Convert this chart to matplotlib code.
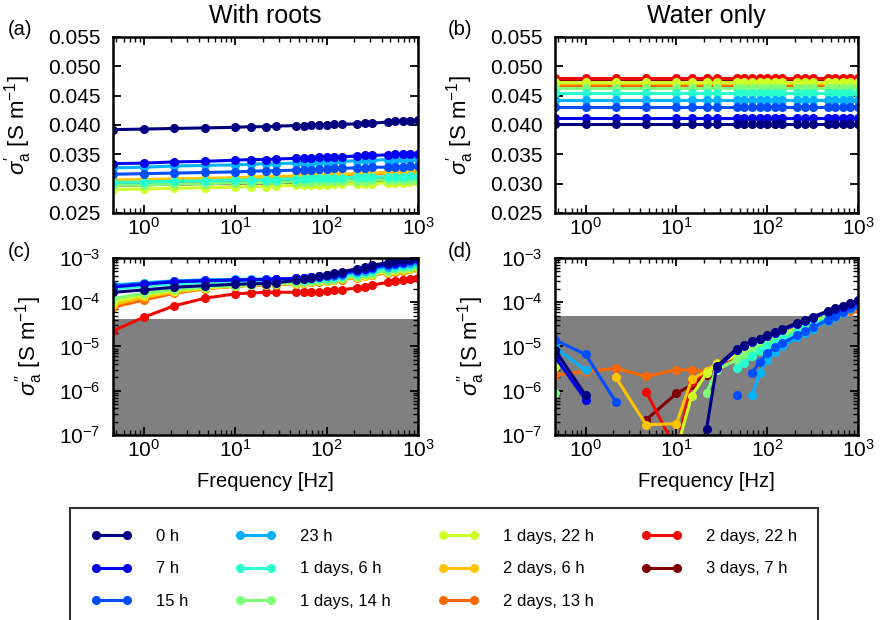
import matplotlib
matplotlib.use('Agg')
import matplotlib.pyplot as plt
from matplotlib import ticker
import numpy as np

nan = float('nan')

# measurement frequencies [Hz]
freq = [0.46, 1.0, 2.15, 4.64, 10.0, 14.7, 21.5, 27.8, 46.4, 56.2, 68.1, 82.5,
        100, 121, 147, 215, 261, 316, 464, 562, 681, 825, 1000]

labels = ['0 h', '7 h', '15 h', '23 h', '1 days, 6 h', '1 days, 14 h',
          '1 days, 22 h', '2 days, 6 h', '2 days, 13 h', '2 days, 22 h',
          '3 days, 7 h']

# (a) real part, with roots [S/m]
roots_real = [
    [0.0392, 0.0393, 0.0394, 0.0395, 0.0396, 0.0397, 0.0397, 0.0398, 0.0399, 0.0399, 0.0400, 0.0400, 0.0400, 0.0401, 0.0401, 0.0402, 0.0403, 0.0403, 0.0405, 0.0406, 0.0407, 0.0407, 0.0408],
    [0.0334, 0.0335, 0.0337, 0.0338, 0.0340, 0.0341, 0.0341, 0.0342, 0.0343, 0.0344, 0.0344, 0.0345, 0.0345, 0.0346, 0.0346, 0.0347, 0.0348, 0.0348, 0.0349, 0.0350, 0.0350, 0.0351, 0.0351],
    [0.0316, 0.0317, 0.0318, 0.0319, 0.0320, 0.0321, 0.0322, 0.0322, 0.0323, 0.0324, 0.0324, 0.0325, 0.0325, 0.0326, 0.0326, 0.0327, 0.0327, 0.0328, 0.0328, 0.0329, 0.0329, 0.0330, 0.0330],
    [0.0327, 0.0328, 0.0330, 0.0331, 0.0332, 0.0333, 0.0334, 0.0334, 0.0335, 0.0336, 0.0336, 0.0337, 0.0337, 0.0338, 0.0338, 0.0339, 0.0340, 0.0340, 0.0341, 0.0341, 0.0342, 0.0342, 0.0342],
    [0.0302, 0.0303, 0.0304, 0.0305, 0.0306, 0.0306, 0.0307, 0.0307, 0.0308, 0.0308, 0.0309, 0.0309, 0.0309, 0.0310, 0.0310, 0.0311, 0.0311, 0.0311, 0.0312, 0.0312, 0.0312, 0.0313, 0.0313],
    [0.0297, 0.0298, 0.0299, 0.0300, 0.0301, 0.0301, 0.0302, 0.0302, 0.0303, 0.0303, 0.0303, 0.0304, 0.0304, 0.0304, 0.0305, 0.0305, 0.0305, 0.0306, 0.0306, 0.0306, 0.0307, 0.0307, 0.0307],
    [0.0290, 0.0291, 0.0292, 0.0293, 0.0294, 0.0295, 0.0295, 0.0296, 0.0297, 0.0297, 0.0298, 0.0298, 0.0298, 0.0299, 0.0299, 0.0300, 0.0300, 0.0300, 0.0301, 0.0301, 0.0301, 0.0302, 0.0302],
    [0.0306, 0.0307, 0.0308, 0.0309, 0.0310, 0.0311, 0.0312, 0.0312, 0.0313, 0.0314, 0.0314, 0.0315, 0.0315, 0.0316, 0.0316, 0.0317, 0.0318, 0.0318, 0.0319, 0.0319, 0.0320, 0.0320, 0.0321],
    [0.0305, 0.0306, 0.0307, 0.0308, 0.0309, 0.0310, 0.0311, 0.0311, 0.0312, 0.0313, 0.0313, 0.0314, 0.0314, 0.0315, 0.0315, 0.0316, 0.0317, 0.0317, 0.0318, 0.0318, 0.0319, 0.0319, 0.0320],
    [0.0302, 0.0303, 0.0304, 0.0304, 0.0305, 0.0306, 0.0306, 0.0307, 0.0307, 0.0308, 0.0308, 0.0309, 0.0309, 0.0309, 0.0310, 0.0310, 0.0311, 0.0311, 0.0311, 0.0312, 0.0312, 0.0312, 0.0313],
    [0.0297, 0.0298, 0.0299, 0.0300, 0.0300, 0.0301, 0.0301, 0.0302, 0.0302, 0.0303, 0.0303, 0.0303, 0.0304, 0.0304, 0.0304, 0.0305, 0.0305, 0.0305, 0.0306, 0.0306, 0.0306, 0.0307, 0.0307],
]

# (b) real part, water only [S/m]
water_real = [
    [0.0401, 0.0401, 0.0401, 0.0401, 0.0401, 0.0401, 0.0401, 0.0401, 0.0401, 0.0401, 0.0401, 0.0401, 0.0401, 0.0401, 0.0401, 0.0401, 0.0401, 0.0401, 0.0401, 0.0401, 0.0401, 0.0401, 0.0401],
    [0.0412, 0.0412, 0.0412, 0.0412, 0.0412, 0.0412, 0.0412, 0.0412, 0.0412, 0.0412, 0.0412, 0.0412, 0.0412, 0.0412, 0.0412, 0.0412, 0.0412, 0.0412, 0.0412, 0.0412, 0.0412, 0.0412, 0.0412],
    [0.0431, 0.0431, 0.0431, 0.0431, 0.0431, 0.0431, 0.0431, 0.0431, 0.0431, 0.0431, 0.0431, 0.0431, 0.0431, 0.0431, 0.0431, 0.0431, 0.0431, 0.0431, 0.0431, 0.0431, 0.0431, 0.0431, 0.0431],
    [0.0443, 0.0443, 0.0443, 0.0443, 0.0443, 0.0443, 0.0443, 0.0443, 0.0443, 0.0443, 0.0443, 0.0443, 0.0443, 0.0443, 0.0443, 0.0443, 0.0443, 0.0443, 0.0443, 0.0443, 0.0443, 0.0443, 0.0443],
    [0.0454, 0.0454, 0.0454, 0.0454, 0.0454, 0.0454, 0.0454, 0.0454, 0.0454, 0.0454, 0.0454, 0.0454, 0.0454, 0.0454, 0.0454, 0.0454, 0.0454, 0.0454, 0.0454, 0.0454, 0.0454, 0.0454, 0.0454],
    [0.0463, 0.0463, 0.0463, 0.0463, 0.0463, 0.0463, 0.0463, 0.0463, 0.0463, 0.0463, 0.0463, 0.0463, 0.0463, 0.0463, 0.0463, 0.0463, 0.0463, 0.0463, 0.0463, 0.0463, 0.0463, 0.0463, 0.0463],
    [0.0474, 0.0474, 0.0474, 0.0474, 0.0474, 0.0474, 0.0474, 0.0474, 0.0474, 0.0474, 0.0474, 0.0474, 0.0474, 0.0474, 0.0474, 0.0474, 0.0474, 0.0474, 0.0474, 0.0474, 0.0474, 0.0474, 0.0474],
    [0.0471, 0.0471, 0.0471, 0.0471, 0.0471, 0.0471, 0.0471, 0.0471, 0.0471, 0.0471, 0.0471, 0.0471, 0.0471, 0.0471, 0.0471, 0.0471, 0.0471, 0.0471, 0.0471, 0.0471, 0.0471, 0.0471, 0.0471],
    [0.0468, 0.0468, 0.0468, 0.0468, 0.0468, 0.0468, 0.0468, 0.0468, 0.0468, 0.0468, 0.0468, 0.0468, 0.0468, 0.0468, 0.0468, 0.0468, 0.0468, 0.0468, 0.0468, 0.0468, 0.0468, 0.0468, 0.0468],
    [0.0480, 0.0480, 0.0480, 0.0480, 0.0480, 0.0480, 0.0480, 0.0480, 0.0480, 0.0480, 0.0480, 0.0480, 0.0480, 0.0480, 0.0480, 0.0480, 0.0480, 0.0480, 0.0480, 0.0480, 0.0480, 0.0480, 0.0480],
    [0.0479, 0.0479, 0.0479, 0.0479, 0.0479, 0.0479, 0.0479, 0.0479, 0.0479, 0.0479, 0.0479, 0.0479, 0.0479, 0.0479, 0.0479, 0.0479, 0.0479, 0.0479, 0.0479, 0.0479, 0.0479, 0.0479, 0.0479],
]

# (c) imaginary part, with roots [S/m]
roots_imag = [
    [1.67e-4, 1.9e-4, 2.18e-4, 2.37e-4, 2.54e-4, 2.6e-4, 2.65e-4, 2.75e-4, 3.1e-4, 3.3e-4, 3.55e-4, 3.85e-4, 4.2e-4, 4.5e-4, 4.9e-4, 5.7e-4, 6.2e-4, 6.8e-4, 7.9e-4, 8.5e-4, 9.1e-4, 9.7e-4, 1.03e-3],
    [2.2e-4, 2.55e-4, 2.9e-4, 3.05e-4, 3.15e-4, 3.2e-4, 3.25e-4, 3.3e-4, 3.45e-4, 3.55e-4, 3.7e-4, 3.9e-4, 4.1e-4, 4.35e-4, 4.6e-4, 5.3e-4, 5.7e-4, 6.2e-4, 7.2e-4, 7.8e-4, 8.3e-4, 8.9e-4, 9.5e-4],
    [2.3e-4, 2.6e-4, 2.95e-4, 3.1e-4, 3.2e-4, 3.25e-4, 3.3e-4, 3.35e-4, 3.45e-4, 3.55e-4, 3.65e-4, 3.8e-4, 4.0e-4, 4.2e-4, 4.45e-4, 5.1e-4, 5.5e-4, 5.9e-4, 6.8e-4, 7.4e-4, 7.9e-4, 8.5e-4, 9.0e-4],
    [2.45e-4, 2.75e-4, 3.05e-4, 3.2e-4, 3.3e-4, 3.3e-4, 3.35e-4, 3.35e-4, 3.4e-4, 3.45e-4, 3.55e-4, 3.7e-4, 3.85e-4, 4.0e-4, 4.2e-4, 4.8e-4, 5.2e-4, 5.6e-4, 6.4e-4, 6.9e-4, 7.4e-4, 7.9e-4, 8.3e-4],
    [2.0e-4, 2.3e-4, 2.6e-4, 2.8e-4, 2.95e-4, 3.0e-4, 3.05e-4, 3.1e-4, 3.2e-4, 3.25e-4, 3.35e-4, 3.45e-4, 3.6e-4, 3.75e-4, 3.95e-4, 4.4e-4, 4.7e-4, 5.1e-4, 5.8e-4, 6.2e-4, 6.6e-4, 7.0e-4, 7.4e-4],
    [1.2e-4, 1.6e-4, 1.95e-4, 2.2e-4, 2.4e-4, 2.5e-4, 2.6e-4, 2.65e-4, 2.8e-4, 2.9e-4, 3.0e-4, 3.1e-4, 3.25e-4, 3.4e-4, 3.55e-4, 3.95e-4, 4.25e-4, 4.55e-4, 5.2e-4, 5.6e-4, 5.95e-4, 6.3e-4, 6.7e-4],
    [1.02e-4, 1.45e-4, 1.83e-4, 2.1e-4, 2.35e-4, 2.45e-4, 2.55e-4, 2.6e-4, 2.75e-4, 2.85e-4, 2.95e-4, 3.05e-4, 3.15e-4, 3.3e-4, 3.45e-4, 3.8e-4, 4.05e-4, 4.35e-4, 4.9e-4, 5.25e-4, 5.6e-4, 5.9e-4, 6.2e-4],
    [8.8e-5, 1.3e-4, 1.7e-4, 2.05e-4, 2.3e-4, 2.4e-4, 2.5e-4, 2.55e-4, 2.65e-4, 2.75e-4, 2.85e-4, 2.95e-4, 3.05e-4, 3.2e-4, 3.35e-4, 3.7e-4, 3.95e-4, 4.2e-4, 4.75e-4, 5.1e-4, 5.4e-4, 5.7e-4, 6.0e-4],
    [7.7e-5, 1.12e-4, 1.59e-4, 2.0e-4, 2.3e-4, 2.4e-4, 2.45e-4, 2.5e-4, 2.6e-4, 2.7e-4, 2.8e-4, 2.9e-4, 3.0e-4, 3.1e-4, 3.25e-4, 3.6e-4, 3.85e-4, 4.1e-4, 4.6e-4, 4.9e-4, 5.2e-4, 5.5e-4, 5.8e-4],
    [2.24e-5, 4.6e-5, 8.3e-5, 1.23e-4, 1.55e-4, 1.62e-4, 1.67e-4, 1.68e-4, 1.68e-4, 1.68e-4, 1.7e-4, 1.72e-4, 1.78e-4, 1.85e-4, 1.92e-4, 2.1e-4, 2.25e-4, 2.45e-4, 2.8e-4, 3.0e-4, 3.2e-4, 3.4e-4, 3.6e-4],
    [1.0e-4, 1.42e-4, 1.8e-4, 2.08e-4, 2.32e-4, 2.42e-4, 2.52e-4, 2.58e-4, 2.72e-4, 2.82e-4, 2.92e-4, 3.02e-4, 3.12e-4, 3.27e-4, 3.42e-4, 3.77e-4, 4.02e-4, 4.32e-4, 4.87e-4, 5.22e-4, 5.57e-4, 5.87e-4, 6.17e-4],
]

# (d) imaginary part, water only [S/m]; nan = negative value, not shown
water_imag = [
    [8.3e-6, 7.9e-7, nan, nan, nan, nan, 1.4e-7, 3.6e-6, 9e-6, 1.1e-5, 1.3e-5, 1.5e-5, 1.8e-5, 2.1e-5, 2.5e-5, 3.4e-5, 4.0e-5, 4.7e-5, 6.3e-5, 7.3e-5, 8.4e-5, 9.8e-5, 1.12e-4],
    [5.9e-6, 6.2e-7, nan, nan, nan, nan, nan, 3.2e-6, 8.5e-6, 1.05e-5, 1.25e-5, 1.45e-5, 1.7e-5, 2.0e-5, 2.4e-5, 3.2e-5, 3.8e-5, 4.5e-5, 6.0e-5, 7.0e-5, 8.0e-5, 9.3e-5, 1.07e-4],
    [1.4e-5, 6.6e-6, 5.6e-7, nan, nan, nan, nan, nan, 8e-7, nan, 2.5e-6, 4.5e-6, 7e-6, 9.5e-6, 1.2e-5, 1.8e-5, 2.2e-5, 2.7e-5, 4.0e-5, 4.9e-5, 6.0e-5, 7.3e-5, 8.8e-5],
    [9.5e-6, 2.9e-6, nan, nan, nan, nan, nan, nan, nan, nan, 8e-7, 2.5e-6, 5e-6, 7.5e-6, 1.0e-5, 1.6e-5, 2.0e-5, 2.5e-5, 3.8e-5, 4.7e-5, 5.8e-5, 7.0e-5, 8.5e-5],
    [nan, nan, nan, nan, nan, nan, nan, nan, 3.3e-6, 4.2e-6, 6e-6, 8e-6, 1.0e-5, 1.2e-5, 1.45e-5, 2.1e-5, 2.5e-5, 3.0e-5, 4.3e-5, 5.2e-5, 6.3e-5, 7.3e-5, 8.5e-5],
    [8.7e-7, nan, nan, nan, nan, nan, 9e-7, 3e-6, 5e-6, 6.5e-6, 8e-6, 1.0e-5, 1.2e-5, 1.45e-5, 1.75e-5, 2.4e-5, 2.9e-5, 3.4e-5, 4.7e-5, 5.5e-5, 6.5e-5, 7.5e-5, 8.6e-5],
    [3.5e-6, nan, nan, nan, 4.4e-8, 7.6e-7, 2.5e-6, 4e-6, 6.5e-6, 8e-6, 9.5e-6, 1.15e-5, 1.35e-5, 1.6e-5, 1.9e-5, 2.6e-5, 3.1e-5, 3.6e-5, 4.9e-5, 5.7e-5, 6.6e-5, 7.6e-5, 8.6e-5],
    [nan, nan, 2.0e-6, 1.7e-7, 1.8e-7, 1.8e-6, 2.8e-6, 4.3e-6, 6e-6, 7.5e-6, 9e-6, 1.1e-5, 1.3e-5, 1.55e-5, 1.85e-5, 2.5e-5, 3.0e-5, 3.5e-5, 4.8e-5, 5.6e-5, 6.5e-5, 7.5e-5, 8.5e-5],
    [2.3e-6, 2.7e-6, 3.2e-6, 2.1e-6, 3.0e-6, 2.9e-6, 2.7e-6, 3.2e-6, 5e-6, 6.5e-6, 8e-6, 9.5e-6, 1.1e-5, 1.3e-5, 1.55e-5, 2.1e-5, 2.5e-5, 3.0e-5, 4.1e-5, 4.8e-5, 5.6e-5, 6.4e-5, 7.2e-5],
    [nan, nan, nan, 9.5e-7, 4.5e-8, 1.6e-6, 2.6e-6, 4e-6, 6e-6, 7.5e-6, 9e-6, 1.1e-5, 1.3e-5, 1.55e-5, 1.85e-5, 2.5e-5, 3.0e-5, 3.5e-5, 4.8e-5, 5.6e-5, 6.5e-5, 7.5e-5, 8.5e-5],
    [nan, nan, nan, 2.2e-7, 8.7e-7, 1.35e-6, 2.3e-6, 4e-6, 6e-6, 7.5e-6, 9e-6, 1.1e-5, 1.3e-5, 1.55e-5, 1.85e-5, 2.5e-5, 3.0e-5, 3.5e-5, 4.8e-5, 5.6e-5, 6.5e-5, 7.5e-5, 8.5e-5],
]

# noise level (grey area) for the imaginary parts
noise_roots = 4.1e-5
noise_water = 4.9e-5

plt.rcParams['font.family'] = ['Liberation Sans', 'DejaVu Sans']
plt.rcParams['mathtext.fontset'] = 'custom'
plt.rcParams['mathtext.rm'] = 'Liberation Sans'
plt.rcParams['mathtext.it'] = 'Liberation Sans:italic'
plt.rcParams['axes.linewidth'] = 1.8

colors = plt.cm.jet(np.linspace(0, 1, len(labels)))
tickSize = 15
labelSize = 16

fig = plt.figure(figsize=(8.8, 6.2), dpi=100)
axA = fig.add_axes([0.1284, 0.6565, 0.3466, 0.2839])
axB = fig.add_axes([0.6307, 0.6565, 0.3443, 0.2839])
axC = fig.add_axes([0.1284, 0.2984, 0.3466, 0.2855])
axD = fig.add_axes([0.6307, 0.2984, 0.3443, 0.2855])


def plotPanel(ax, data):
    lines = [None] * len(data)
    # latest measurement first, so that 0 h ends up on top
    for i in range(len(data) - 1, -1, -1):
        lines[i], = ax.plot(freq, data[i], '-o', color=colors[i], lw=2.2,
                            ms=5.5, mec=colors[i], label=labels[i])
    ax.set_xscale('log')
    ax.set_xlim([0.46, 1000])
    ax.tick_params(which='both', direction='in', top=True, right=True,
                   labelsize=tickSize)
    ax.tick_params(which='major', length=6, width=1.3)
    ax.tick_params(which='minor', length=3.5, width=1.0)
    ax.tick_params(axis='x', which='major', pad=3)
    ax.tick_params(axis='y', which='major', pad=9)
    return lines


handles = plotPanel(axA, roots_real)
plotPanel(axB, water_real)
plotPanel(axC, roots_imag)
plotPanel(axD, water_imag)

for ax in [axA, axB]:
    ax.set_ylim([0.025, 0.055])
    ax.set_yticks([0.025, 0.030, 0.035, 0.040, 0.045, 0.050, 0.055])
    ax.set_yticklabels(['0.025', '0.030', '0.035', '0.040', '0.045', '0.050', '0.055'])
    ax.set_ylabel(r'$\sigma_\mathrm{a}^{\prime}$ [S m$^{-1}$]', fontsize=labelSize, labelpad=10)

for ax, noise in [(axC, noise_roots), (axD, noise_water)]:
    ax.set_yscale('log')
    ax.set_ylim([1e-7, 1e-3])
    ax.yaxis.set_major_locator(ticker.LogLocator(base=10, numticks=10))
    ax.yaxis.set_minor_locator(ticker.LogLocator(base=10, subs=np.arange(2, 10), numticks=50))
    ax.yaxis.set_minor_formatter(ticker.NullFormatter())
    ax.axhspan(1e-7, noise, color='#808080', zorder=0, lw=0)
    ax.set_ylabel(r'$\sigma_\mathrm{a}^{\prime\prime}$ [S m$^{-1}$]', fontsize=labelSize, labelpad=10)
    ax.set_xlabel('Frequency [Hz]', fontsize=14.5, labelpad=8)

axA.set_title('With roots', fontsize=18, pad=10)
axB.set_title('Water only', fontsize=18, pad=10)

fig.text(0.009, 0.953, '(a)', fontsize=14.5, va='center')
fig.text(0.509, 0.953, '(b)', fontsize=14.5, va='center')
fig.text(0.009, 0.594, '(c)', fontsize=14.5, va='center')
fig.text(0.509, 0.594, '(d)', fontsize=14.5, va='center')

# legend box spans the figure width below the panels, its bottom runs off the figure
leg = fig.legend(handles, labels, ncol=4, loc='upper left', mode='expand',
                 bbox_to_anchor=(0.0795, 0.1806 - 0.2, 0.850, 0.2), numpoints=2,
                 handlelength=2.45, handletextpad=1.45, columnspacing=1.0,
                 labelspacing=1.05, borderpad=1.25, fancybox=False,
                 borderaxespad=0, prop={'size': 12})
leg.get_frame().set_edgecolor('black')
leg.get_frame().set_linewidth(1.5)

fig.savefig('out.png', dpi=100)
